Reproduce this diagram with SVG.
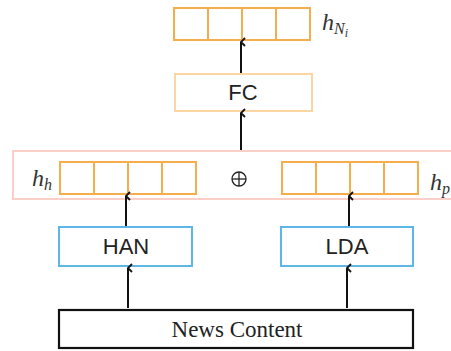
<svg xmlns="http://www.w3.org/2000/svg" width="451" height="351" viewBox="0 0 451 351">
  <style>
    .vec { fill: #ffffff; stroke: #F6AE4C; stroke-width: 2; }
    .cell { stroke: #F6AE4C; stroke-width: 2; }
    .fc { fill: #ffffff; stroke: #FCD6A2; stroke-width: 2; }
    .cat { fill: none; stroke: #F9CFC8; stroke-width: 2; }
    .enc { fill: #ffffff; stroke: #5DB6E6; stroke-width: 2; }
    .src { fill: #ffffff; stroke: #111111; stroke-width: 2.2; }
    .sans { font-family: "Liberation Sans", Arial, sans-serif; font-size: 22px; fill: #222; text-anchor: middle; }
    .serif { font-family: "Liberation Serif", "Times New Roman", serif; font-size: 23px; fill: #222; text-anchor: middle; }
    .math { font-family: "Liberation Serif", "Times New Roman", serif; font-style: italic; fill: #333; }
    .conn line { stroke: #111; stroke-width: 2; marker-end: url(#arr); }
  </style>
  <defs>
    <marker id="arr" viewBox="0 0 10 10" refX="5" refY="1" markerWidth="10" markerHeight="10" markerUnits="userSpaceOnUse" orient="auto-start-reverse">
      <path d="M1,5 L5,1 L9,5" fill="none" stroke="#111" stroke-width="1.8"/>
    </marker>
  </defs>

  <!-- output vector h_Ni -->
  <g id="out-vector">
    <rect class="vec" x="174" y="8" width="136" height="32"/>
    <line class="cell" x1="208" y1="8" x2="208" y2="40"/>
    <line class="cell" x1="242" y1="8" x2="242" y2="40"/>
    <line class="cell" x1="276" y1="8" x2="276" y2="40"/>
    <text class="math" x="322" y="30" font-size="24">h<tspan font-size="16" dy="4">N</tspan><tspan font-size="12" dy="3">i</tspan></text>
  </g>

  <!-- fully connected layer -->
  <g id="fc">
    <rect class="fc" x="175" y="74" width="137" height="37"/>
    <text class="sans" x="243" y="100">FC</text>
  </g>

  <!-- concatenation of the two representations -->
  <g id="concat">
    <rect class="cat" x="13" y="151" width="460" height="48"/>
    <text class="math" x="32" y="186" font-size="24">h<tspan font-size="16" dy="4">h</tspan></text>
    <rect class="vec" x="60" y="162" width="136" height="32"/>
    <line class="cell" x1="94" y1="162" x2="94" y2="194"/>
    <line class="cell" x1="128" y1="162" x2="128" y2="194"/>
    <line class="cell" x1="162" y1="162" x2="162" y2="194"/>
    <g stroke="#222" stroke-width="1.3" fill="none">
      <circle cx="239" cy="179" r="7"/>
      <line x1="232" y1="179" x2="246" y2="179"/>
      <line x1="239" y1="172" x2="239" y2="186"/>
    </g>
    <rect class="vec" x="282" y="162" width="136" height="32"/>
    <line class="cell" x1="316" y1="162" x2="316" y2="194"/>
    <line class="cell" x1="350" y1="162" x2="350" y2="194"/>
    <line class="cell" x1="384" y1="162" x2="384" y2="194"/>
    <text class="math" x="430" y="190" font-size="24">h<tspan font-size="16" dy="4">p</tspan></text>
  </g>

  <!-- encoders -->
  <g id="han">
    <rect class="enc" x="59" y="227" width="133" height="39"/>
    <text class="sans" x="126" y="254">HAN</text>
  </g>
  <g id="lda">
    <rect class="enc" x="281" y="227" width="132" height="39"/>
    <text class="sans" x="347" y="254">LDA</text>
  </g>

  <!-- input -->
  <g id="news-content">
    <rect class="src" x="59" y="310" width="354" height="38"/>
    <text class="serif" x="237" y="337">News Content</text>
  </g>

  <!-- connectors -->
  <g id="connectors" class="conn">
    <line x1="128" y1="308" x2="128" y2="268"/>
    <line x1="347" y1="308" x2="347" y2="268"/>
    <line x1="126" y1="226" x2="126" y2="196"/>
    <line x1="349" y1="226" x2="349" y2="196"/>
    <line x1="241" y1="150" x2="241" y2="113"/>
    <line x1="241" y1="73" x2="241" y2="42"/>
  </g>
</svg>
